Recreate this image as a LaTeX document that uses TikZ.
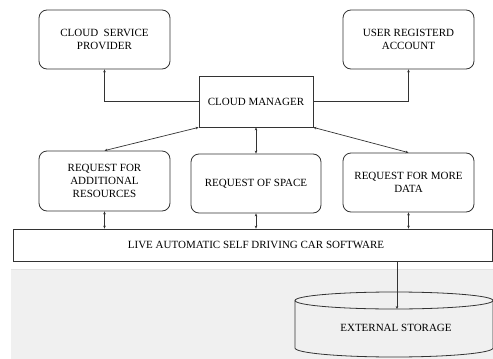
\documentclass[tikz,border=0pt]{standalone}
\usepackage{fontspec}
\setmainfont{Liberation Serif}
\usetikzlibrary{arrows.meta}
\definecolor{bgray}{HTML}{F0F0F0}
\definecolor{bline}{HTML}{E4E4E4}
\definecolor{ink}{HTML}{333333}
\tikzset{
  box/.style={draw=ink, line width=0.8pt, rounded corners=8pt, fill=white, inner sep=0pt, align=center, font=\fontsize{11}{13.3}\selectfont},
  sqbox/.style={draw=ink, line width=0.8pt, fill=white, inner sep=0pt, align=center, font=\fontsize{11}{13.3}\selectfont},
  lbl/.style={inner sep=0pt, align=center, font=\fontsize{11}{13.3}\selectfont},
  conn/.style={draw=ink, line width=0.7pt},
  tip/.style={-{Stealth[length=3pt,width=2.6pt]}},
  tips/.style={{Stealth[length=3pt,width=2.6pt]}-{Stealth[length=3pt,width=2.6pt]}}
}
\begin{document}
\begin{tikzpicture}[x=1pt,y=-1pt]
\useasboundingbox (0,0) rectangle (493,359);
% background
\fill[white] (0,0) rectangle (493,359);
\fill[bgray] (11,269) rectangle (493,359);
\draw[bline, line width=1.2pt] (11,269.5) -- (493,269.5);
% storage cylinder
\draw[ink, line width=0.8pt] (295,300.5) -- (295,348) arc[start angle=180, end angle=360, x radius=99pt, y radius=9pt] -- (493,300.5);
\draw[ink, line width=0.8pt] (394,300.5) ellipse[x radius=99pt, y radius=8.5pt];
\node[lbl] (st) at (396,328) {EXTERNAL STORAGE};
\coordinate (sttop) at (397,309);
% nodes
\node[box, minimum width=131pt, minimum height=59pt] (csp) at (104.5,39.5) {CLOUD\ \ SERVICE\\PROVIDER};
\node[box, minimum width=131pt, minimum height=59pt] (ura) at (408.5,39.5) {USER REGISTERD\\ACCOUNT};
\node[sqbox, minimum width=114pt, minimum height=51pt] (cm) at (256,101.5) {CLOUD MANAGER};
\node[box, minimum width=131pt, minimum height=60pt] (rfar) at (104.5,181) {REQUEST FOR\\ADDITIONAL\\RESOURCES};
\node[box, minimum width=130pt, minimum height=59pt] (ros) at (256,183.5) {REQUEST OF SPACE};
\node[box, minimum width=131pt, minimum height=59pt] (rfmd) at (408.5,182.5) {REQUEST FOR MORE\\DATA};
\node[sqbox, minimum width=479pt, minimum height=32pt] (live) at (252.5,245) {\hspace{7pt}LIVE AUTOMATIC SELF DRIVING CAR SOFTWARE};
% connectors
\draw[conn, tip] (cm.west) -| (csp.south);
\draw[conn, tip] (cm.east) -| (ura.south);
\draw[conn, tips] (cm.south west) -- (rfar.north);
\draw[conn, tips] (cm.south) -- (ros.north);
\draw[conn, tips] (cm.south east) -- (rfmd.north);
\draw[conn, tips] (rfar.south) -- (rfar.south |- live.north);
\draw[conn, tips] (ros.south) -- (ros.south |- live.north);
\draw[conn, tips] (rfmd.south) -- (rfmd.south |- live.north);
\draw[conn, tip] (sttop |- live.south) -- (sttop);
\end{tikzpicture}
\end{document}
